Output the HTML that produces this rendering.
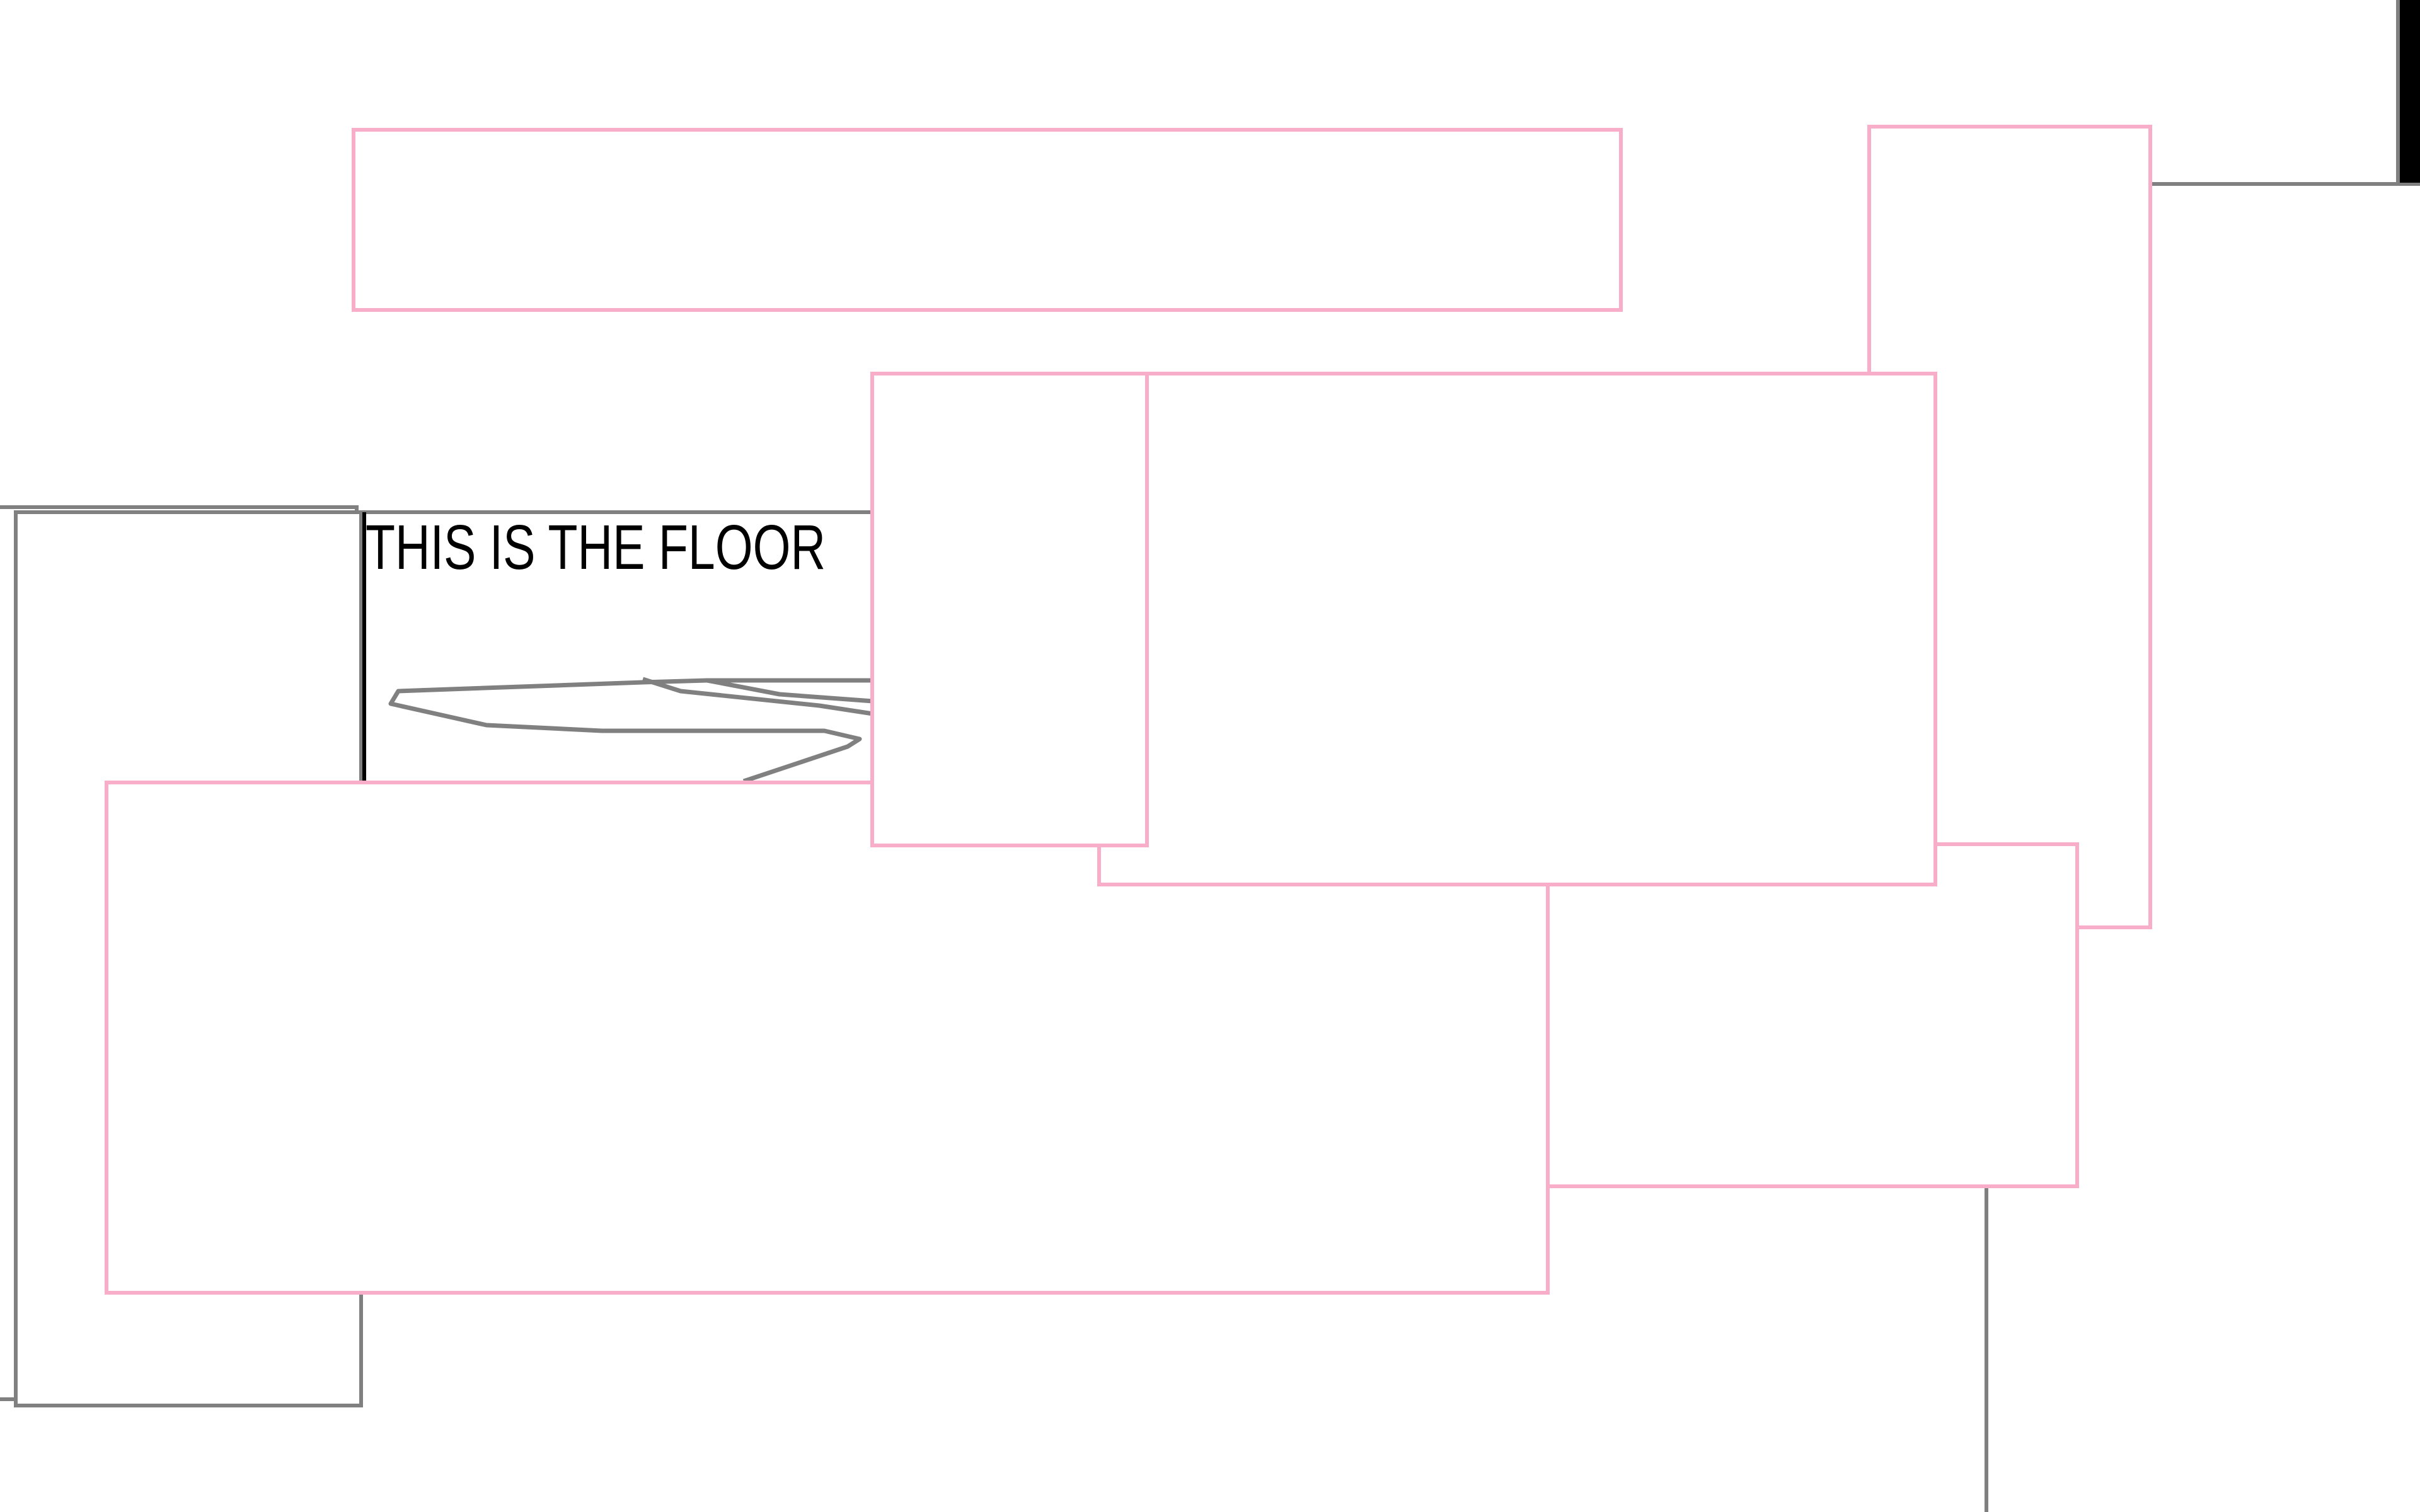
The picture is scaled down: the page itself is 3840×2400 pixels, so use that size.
<!DOCTYPE html>
<html><head><meta charset="utf-8"><style>
html,body{margin:0;padding:0;background:#fff;}
svg{display:block;}
</style></head><body>
<svg width="3840" height="2400" viewBox="0 0 3840 2400" xmlns="http://www.w3.org/2000/svg">
<rect x="0" y="0" width="3840" height="2400" fill="#fff"/>
<g fill="none" stroke="#808080" stroke-width="6">
  <polyline points="0,805 566,805 566,813"/>
  <polyline points="0,2221 24,2221"/>
  <rect x="25" y="813" width="548" height="1418" fill="#fff"/>
  <line x1="573" y1="813" x2="1390" y2="813"/>
  <line x1="3412" y1="292" x2="3840" y2="292"/>
  <line x1="3805" y1="0" x2="3805" y2="292"/>
  <line x1="3152" y1="1883" x2="3152" y2="2400"/>
</g>
<rect x="3808" y="0" width="32" height="290" fill="#000"/>
<line x1="578" y1="813" x2="578" y2="1245" stroke="#000" stroke-width="6"/>
<text x="580" y="903" font-family="'Liberation Sans', sans-serif" font-size="100" fill="#000" transform="translate(580 0) scale(0.77 1) translate(-580 0)">THIS IS THE FLOOR</text>
<g fill="none" stroke="#808080" stroke-width="7" stroke-linejoin="round">
  <polyline points="1385,1080 1122,1080 1020,1083 632,1097 620,1117 772,1151 955,1160 1308,1160 1364,1173 1345,1185 1180,1240"/>
  <polyline points="1020,1078 1080,1097 1300,1120 1385,1133"/>
  <polyline points="1122,1080 1237,1102 1385,1113"/>
</g>
<g fill="#fff" stroke="#f8adc9" stroke-width="6">
  <rect x="2966" y="201" width="446" height="1271"/>
  <rect x="561" y="206" width="2011" height="286"/>
  <rect x="2456" y="1340" width="840" height="543"/>
  <rect x="169" y="1242" width="2287" height="810"/>
  <rect x="1744" y="593" width="1327" height="811"/>
  <rect x="1384" y="593" width="436" height="749"/>
</g>
</svg>
</body></html>
